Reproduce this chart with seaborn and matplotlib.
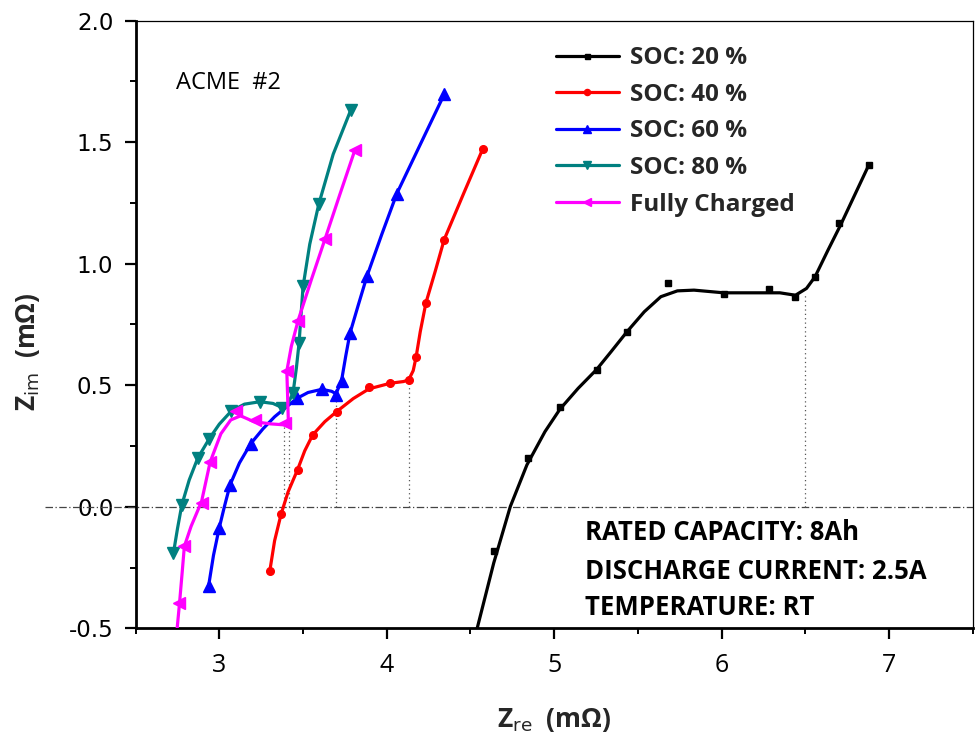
import matplotlib
matplotlib.use("Agg")
import matplotlib.pyplot as plt
from matplotlib.lines import Line2D
from matplotlib.ticker import MultipleLocator
import seaborn as sns
import pandas as pd

# ---------------- data ----------------
labels = ["SOC: 20 %", "SOC: 40 %", "SOC: 60 %", "SOC: 80 %", "Fully Charged"]
colors = ["#000000", "#FF0000", "#0000FF", "#008080", "#FF00FF"]
markers = ["s", "o", "^", "v", "<"]
msizes = [4.5, 5.5, 8, 8, 8]

# measured points (markers)
soc20_x = [4.639, 4.843, 5.034, 5.254, 5.435, 5.682, 6.016, 6.283, 6.441, 6.558, 6.70, 6.878]
soc20_y = [-0.181, 0.200, 0.409, 0.563, 0.720, 0.919, 0.877, 0.894, 0.864, 0.946, 1.168, 1.404]
soc40_x = [3.301, 3.369, 3.467, 3.558, 3.700, 3.894, 4.021, 4.131, 4.175, 4.234, 4.343, 4.574]
soc40_y = [-0.266, -0.030, 0.152, 0.296, 0.391, 0.491, 0.508, 0.522, 0.615, 0.839, 1.099, 1.473]
soc60_x = [2.936, 2.999, 3.064, 3.187, 3.464, 3.612, 3.697, 3.730, 3.780, 3.882, 4.060, 4.343]
soc60_y = [-0.325, -0.088, 0.090, 0.259, 0.446, 0.483, 0.460, 0.519, 0.713, 0.949, 1.288, 1.696]
soc80_x = [2.726, 2.776, 2.871, 2.940, 3.072, 3.242, 3.375, 3.440, 3.476, 3.500, 3.594, 3.784]
soc80_y = [-0.190, 0.008, 0.200, 0.280, 0.394, 0.432, 0.405, 0.467, 0.672, 0.906, 1.245, 1.630]
full_x = [2.762, 2.791, 2.894, 2.945, 3.100, 3.210, 3.395, 3.403, 3.470, 3.632, 3.809]
full_y = [-0.398, -0.163, 0.015, 0.183, 0.395, 0.355, 0.345, 0.558, 0.765, 1.103, 1.466]

# smooth fitted curves
soc20_cx = [4.540, 4.639, 4.738, 4.837, 4.945, 5.034, 5.143, 5.254, 5.340, 5.435, 5.538,
            5.637, 5.736, 5.835, 6.012, 6.190, 6.348, 6.441, 6.507, 6.558, 6.635, 6.710, 6.878]
soc20_cy = [-0.500, -0.231, 0.001, 0.172, 0.309, 0.401, 0.487, 0.565, 0.638, 0.720, 0.802,
            0.864, 0.888, 0.891, 0.880, 0.880, 0.880, 0.870, 0.898, 0.946, 1.055, 1.158, 1.404]
soc40_cx = [3.301, 3.330, 3.369, 3.410, 3.467, 3.510, 3.558, 3.630, 3.700, 3.800, 3.894,
            4.021, 4.100, 4.131, 4.158, 4.175, 4.200, 4.234, 4.290, 4.343, 4.460, 4.574]
soc40_cy = [-0.266, -0.140, -0.030, 0.060, 0.152, 0.230, 0.296, 0.350, 0.391, 0.445, 0.485,
            0.508, 0.515, 0.522, 0.560, 0.615, 0.720, 0.839, 0.970, 1.099, 1.290, 1.473]
soc60_cx = [2.936, 2.965, 2.999, 3.030, 3.064, 3.120, 3.187, 3.260, 3.330, 3.400, 3.464,
            3.530, 3.612, 3.670, 3.697, 3.730, 3.755, 3.780, 3.830, 3.882, 3.970, 4.060, 4.200, 4.343]
soc60_cy = [-0.325, -0.200, -0.088, 0.000, 0.090, 0.180, 0.259, 0.320, 0.370, 0.410, 0.446,
            0.470, 0.483, 0.475, 0.465, 0.519, 0.620, 0.713, 0.830, 0.949, 1.120, 1.288, 1.490, 1.696]
soc80_cx = [2.726, 2.750, 2.776, 2.820, 2.871, 2.940, 3.000, 3.072, 3.150, 3.242, 3.320,
            3.375, 3.410, 3.440, 3.460, 3.476, 3.488, 3.500, 3.540, 3.594, 3.680, 3.784]
soc80_cy = [-0.190, -0.090, 0.008, 0.110, 0.200, 0.280, 0.340, 0.394, 0.422, 0.432, 0.425,
            0.408, 0.425, 0.467, 0.570, 0.672, 0.790, 0.906, 1.080, 1.245, 1.450, 1.630]
full_cx = [2.748, 2.762, 2.778, 2.791, 2.831, 2.894, 2.945, 3.009, 3.068, 3.127, 3.206,
           3.305, 3.384, 3.413, 3.408, 3.403, 3.430, 3.470, 3.550, 3.632, 3.720, 3.809]
full_cy = [-0.500, -0.398, -0.270, -0.163, -0.081, 0.022, 0.184, 0.300, 0.357, 0.374, 0.350,
           0.341, 0.337, 0.330, 0.450, 0.558, 0.660, 0.765, 0.935, 1.103, 1.285, 1.466]

# dotted drop lines (x position, top value)
drop_x = [3.388, 3.414, 3.697, 4.131, 6.500]
drop_top = [0.340, 0.370, 0.460, 0.522, 0.870]

xticks = [3, 4, 5, 6, 7]
yticks = [-0.5, 0.0, 0.5, 1.0, 1.5, 2.0]
info_lines = ["RATED CAPACITY: 8Ah", "DISCHARGE CURRENT: 2.5A", "TEMPERATURE: RT"]

pts = [(soc20_x, soc20_y), (soc40_x, soc40_y), (soc60_x, soc60_y), (soc80_x, soc80_y), (full_x, full_y)]
crv = [(soc20_cx, soc20_cy), (soc40_cx, soc40_cy), (soc60_cx, soc60_cy), (soc80_cx, soc80_cy), (full_cx, full_cy)]

# ---------------- figure ----------------
sns.set_theme(style="ticks")
plt.rcParams["font.family"] = ["DejaVu Sans"]

fig = plt.figure(figsize=(9.8, 7.52), dpi=100)
ax = fig.add_axes([0.1384, 0.1645, 0.8542, 0.8082])

# reference lines
ax.axhline(0, xmin=-0.108, xmax=1, color="#444444", lw=0.9, ls=(0, (6, 2, 1, 2)), clip_on=False, zorder=1)
for xv, tv in zip(drop_x, drop_top):
    ax.plot([xv, xv], [0, tv], color="#555555", lw=0.9, ls=(0, (1, 2.5)), zorder=1)

for i, lab in enumerate(labels):
    cdf = pd.DataFrame({"x": crv[i][0], "y": crv[i][1]})
    sns.lineplot(data=cdf, x="x", y="y", sort=False, estimator=None, color=colors[i],
                 lw=2.3, ax=ax, zorder=3 + i)
    pdf = pd.DataFrame({"x": pts[i][0], "y": pts[i][1]})
    ax.plot(pdf["x"], pdf["y"], ls="none", marker=markers[i], ms=msizes[i],
            color=colors[i], mec=colors[i], zorder=3 + i, clip_on=False)

ax.set_xlim(2.5, 7.5)
ax.set_ylim(-0.5, 2.0)
ax.set_xticks(xticks)
ax.set_yticks(yticks)
ax.set_yticklabels([f"{v:.1f}" for v in yticks])
ax.xaxis.set_minor_locator(MultipleLocator(0.5))
ax.yaxis.set_minor_locator(MultipleLocator(0.25))
ax.tick_params(axis="both", which="major", direction="out", length=8, width=1.6, color="black")
ax.tick_params(axis="both", which="minor", direction="out", length=4, width=1.4, color="black")
ax.tick_params(axis="y", which="major", labelsize=16.5, pad=8, labelcolor="black")
ax.tick_params(axis="x", which="major", pad=10, labelcolor="black")
for t in ax.get_xticklabels():
    t.set_fontfamily("Open Sans")
    t.set_fontsize(18)

for s in ["left", "bottom"]:
    ax.spines[s].set_linewidth(2.0)
    ax.spines[s].set_color("black")
for s in ["top", "right"]:
    ax.spines[s].set_visible(True)
    ax.spines[s].set_linewidth(0.9)
    ax.spines[s].set_color("black")

ax.set_xlabel(r"Z$_{\mathrm{re}}$  (mΩ)", fontfamily="Open Sans", fontweight="bold", fontsize=19)
ax.set_ylabel(r"Z$_{\mathrm{im}}$  (mΩ)", fontfamily="Open Sans", fontweight="bold", fontsize=19)
ax.xaxis.set_label_coords(0.50, -0.128)
ax.yaxis.set_label_coords(-0.112, 0.455)

# legend
handles = [Line2D([0], [0], color=colors[i], lw=2.3, marker=markers[i], ms=msizes[i] * 0.8)
           for i in range(len(labels))]
ax.legend(handles, labels, loc="upper left", bbox_to_anchor=(0.502, 0.958), frameon=False,
          prop={"family": "Open Sans", "weight": "bold", "size": 17.5},
          handlelength=2.6, handletextpad=0.45, labelspacing=0.52, borderpad=0, borderaxespad=0)

# annotations
ax.text(0.048, 0.897, "ACME  #2", transform=ax.transAxes, fontfamily="Open Sans",
        fontsize=17, va="center", ha="left", color="black")
for yy, line in zip([0.157, 0.094, 0.035], info_lines):
    ax.text(0.537, yy, line, transform=ax.transAxes, fontfamily="Open Sans", fontweight="bold",
            fontsize=18.5, va="center", ha="left", color="black")

fig.savefig("out.png", dpi=100, facecolor="white")
